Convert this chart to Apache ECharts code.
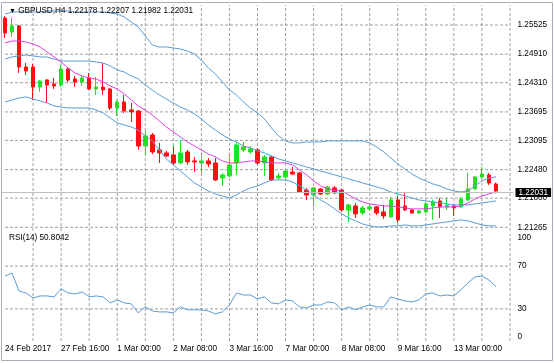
<!DOCTYPE html>
<html><head><meta charset="utf-8">
<script src="https://cdn.jsdelivr.net/npm/echarts@6/dist/echarts.min.js"></script>
<style>html,body{margin:0;padding:0;background:#fff}#c{width:554px;height:363px}</style>
</head><body><div id="c"></div>
<script>
const symbol = 'GBPUSD,H4';
const categories = [
 '2017.02.24 08:00','2017.02.24 12:00','2017.02.24 16:00','2017.02.24 20:00',
 '2017.02.27 00:00','2017.02.27 04:00','2017.02.27 08:00','2017.02.27 12:00','2017.02.27 16:00','2017.02.27 20:00',
 '2017.02.28 00:00','2017.02.28 04:00','2017.02.28 08:00','2017.02.28 12:00','2017.02.28 16:00','2017.02.28 20:00',
 '2017.03.01 00:00','2017.03.01 04:00','2017.03.01 08:00','2017.03.01 12:00','2017.03.01 16:00','2017.03.01 20:00',
 '2017.03.02 00:00','2017.03.02 04:00','2017.03.02 08:00','2017.03.02 12:00','2017.03.02 16:00','2017.03.02 20:00',
 '2017.03.03 00:00','2017.03.03 04:00','2017.03.03 08:00','2017.03.03 12:00','2017.03.03 16:00','2017.03.03 20:00',
 '2017.03.06 00:00','2017.03.06 04:00','2017.03.06 08:00','2017.03.06 12:00','2017.03.06 16:00','2017.03.06 20:00',
 '2017.03.07 00:00','2017.03.07 04:00','2017.03.07 08:00','2017.03.07 12:00','2017.03.07 16:00','2017.03.07 20:00',
 '2017.03.08 00:00','2017.03.08 04:00','2017.03.08 08:00','2017.03.08 12:00','2017.03.08 16:00','2017.03.08 20:00',
 '2017.03.09 00:00','2017.03.09 04:00','2017.03.09 08:00','2017.03.09 12:00','2017.03.09 16:00','2017.03.09 20:00',
 '2017.03.10 00:00','2017.03.10 04:00','2017.03.10 08:00','2017.03.10 12:00','2017.03.10 16:00','2017.03.10 20:00',
 '2017.03.13 00:00','2017.03.13 04:00','2017.03.13 08:00','2017.03.13 12:00','2017.03.13 16:00','2017.03.13 20:00',
 '2017.03.14 00:00','2017.03.14 04:00','2017.03.14 08:00'
];
const dateLabels = ['24 Feb 2017','27 Feb 16:00','1 Mar 00:00','2 Mar 08:00','3 Mar 16:00','7 Mar 00:00','8 Mar 08:00','9 Mar 16:00','13 Mar 00:00'];
const priceTicks = [1.21265,1.21880,1.22480,1.23095,1.23695,1.24310,1.24910,1.25525];
const priceRange = [1.21188, 1.25946];
const rsiTicks = [0,30,70,100];
const rsiLevels = [30,70];

const open = [1.25672,1.25378,1.25504,1.24641,1.24641,1.24220,1.24367,1.24283,1.24262,1.24599,
 1.24389,1.24325,1.24410,1.24178,1.24220,1.24178,1.23778,1.23904,1.23736,1.23715,
 1.22978,1.23210,1.22894,1.22831,1.22789,1.22621,1.22852,1.22663,1.22621,1.22663,
 1.22621,1.22305,1.22347,1.22621,1.22894,1.22852,1.22894,1.22621,1.22747,1.22305,
 1.22326,1.22431,1.22410,1.22052,1.21947,1.22073,1.21968,1.22094,1.22052,1.21632,
 1.21716,1.21568,1.21653,1.21695,1.21589,1.21484,1.21842,1.21716,1.21632,1.21568,
 1.21589,1.21716,1.21821,1.21695,1.21716,1.21695,1.21842,1.22073,1.22326,1.22368,
 1.22178];
const close = [1.25357,1.25504,1.24641,1.24557,1.24220,1.24346,1.24262,1.24241,1.24599,1.24367,
 1.24325,1.24410,1.24178,1.24220,1.24157,1.23778,1.23904,1.23715,1.23694,1.22978,
 1.23189,1.22852,1.22831,1.22768,1.22621,1.22831,1.22642,1.22642,1.22663,1.22600,
 1.22263,1.22368,1.22579,1.23000,1.22957,1.22915,1.22621,1.22747,1.22263,1.22347,
 1.22452,1.22389,1.22010,1.21947,1.22094,1.21968,1.22116,1.21989,1.21632,1.21737,
 1.21547,1.21674,1.21695,1.21568,1.21505,1.21842,1.21421,1.21632,1.21568,1.21610,
 1.21758,1.21800,1.21695,1.21737,1.21674,1.21863,1.22073,1.22326,1.22389,1.22200,
 1.22031];
const low = [1.25251,1.25272,1.24515,1.24473,1.23947,1.24115,1.23883,1.24178,1.24220,1.24325,
 1.24220,1.24241,1.24157,1.24052,1.24052,1.23736,1.23610,1.23673,1.23484,1.22894,
 1.22789,1.22810,1.22621,1.22747,1.22579,1.22600,1.22579,1.22431,1.22410,1.22536,
 1.22242,1.22137,1.22326,1.22368,1.22852,1.22810,1.22579,1.22347,1.22242,1.22263,
 1.22305,1.22368,1.21989,1.21842,1.21695,1.21947,1.21947,1.21968,1.21589,1.21379,
 1.21463,1.21526,1.21610,1.21526,1.21442,1.21463,1.21358,1.21610,1.21547,1.21547,
 1.21568,1.21421,1.21463,1.21632,1.21505,1.21674,1.21821,1.22052,1.22284,1.22158,
 1.21982];
const high = [1.25714,1.25672,1.25525,1.24725,1.24704,1.24367,1.24389,1.24410,1.24683,1.24641,
 1.24452,1.24473,1.24515,1.24431,1.24725,1.24199,1.23947,1.24052,1.23883,1.23736,
 1.23294,1.23252,1.23042,1.22873,1.22978,1.23105,1.22894,1.22747,1.22831,1.22726,
 1.22726,1.22410,1.22789,1.23063,1.23063,1.22978,1.22936,1.22789,1.22768,1.22410,
 1.22473,1.22536,1.22431,1.22094,1.22116,1.22094,1.22137,1.22137,1.22073,1.21758,
 1.21779,1.21716,1.21737,1.21716,1.21737,1.21905,1.21926,1.21989,1.21653,1.21632,
 1.21800,1.21842,1.21884,1.21884,1.21737,1.21905,1.22410,1.22347,1.22536,1.22410,
 1.22207];

const bbUpper = [1.25756,1.25799,1.25799,1.25799,1.25799,1.25799,1.25820,1.25820,1.25820,1.25820,
 1.25799,1.25799,1.25799,1.25799,1.25799,1.25778,1.25756,1.25693,1.25588,1.25483,
 1.25293,1.25104,1.25062,1.25062,1.25041,1.25020,1.24978,1.24915,1.24788,1.24620,
 1.24494,1.24325,1.24157,1.24052,1.23904,1.23778,1.23673,1.23547,1.23357,1.23189,
 1.23084,1.23042,1.23042,1.23063,1.23063,1.23063,1.23084,1.23084,1.23084,1.23084,
 1.23084,1.23084,1.23042,1.22957,1.22852,1.22726,1.22600,1.22494,1.22389,1.22305,
 1.22242,1.22179,1.22137,1.22073,1.22031,1.22010,1.22031,1.22137,1.22242,1.22305,
 1.22326];
const bbMiddle = [1.24809,1.24852,1.24873,1.24894,1.24873,1.24852,1.24852,1.24809,1.24767,1.24767,
 1.24767,1.24767,1.24767,1.24746,1.24725,1.24662,1.24578,1.24536,1.24452,1.24389,
 1.24262,1.24157,1.24052,1.23968,1.23883,1.23799,1.23736,1.23652,1.23547,1.23420,
 1.23315,1.23210,1.23126,1.23063,1.22978,1.22936,1.22873,1.22831,1.22768,1.22705,
 1.22663,1.22621,1.22579,1.22536,1.22494,1.22452,1.22410,1.22368,1.22326,1.22284,
 1.22242,1.22200,1.22158,1.22116,1.22073,1.22010,1.21968,1.21926,1.21884,1.21842,
 1.21821,1.21800,1.21779,1.21758,1.21737,1.21737,1.21737,1.21758,1.21779,1.21800,
 1.21821];
const bbLower = [1.23904,1.23947,1.23989,1.24010,1.23968,1.23926,1.23883,1.23820,1.23799,1.23778,
 1.23778,1.23778,1.23778,1.23736,1.23673,1.23568,1.23463,1.23420,1.23378,1.23315,
 1.23189,1.23084,1.22894,1.22705,1.22579,1.22452,1.22326,1.22200,1.22116,1.22031,
 1.21968,1.21926,1.21884,1.21947,1.22031,1.22094,1.22137,1.22200,1.22263,1.22263,
 1.22263,1.22221,1.22137,1.22052,1.21947,1.21842,1.21758,1.21653,1.21547,1.21463,
 1.21400,1.21337,1.21295,1.21274,1.21274,1.21295,1.21295,1.21316,1.21295,1.21295,
 1.21316,1.21337,1.21358,1.21379,1.21400,1.21421,1.21400,1.21358,1.21316,1.21295,
 1.21295];
const maLine = [1.25146,1.25188,1.25188,1.25167,1.25125,1.25062,1.24957,1.24852,1.24746,1.24620,
 1.24515,1.24452,1.24410,1.24389,1.24325,1.24241,1.24178,1.24073,1.23947,1.23820,
 1.23736,1.23631,1.23505,1.23378,1.23273,1.23168,1.23063,1.22978,1.22894,1.22810,
 1.22747,1.22663,1.22621,1.22621,1.22642,1.22663,1.22663,1.22642,1.22621,1.22621,
 1.22621,1.22579,1.22473,1.22368,1.22242,1.22137,1.22073,1.22052,1.22031,1.21947,
 1.21863,1.21800,1.21758,1.21737,1.21716,1.21716,1.21695,1.21674,1.21653,1.21653,
 1.21653,1.21674,1.21695,1.21695,1.21695,1.21716,1.21779,1.21863,1.21926,1.21968,
 1.22010];
const rsi = [60.7,63.5,46.7,44.9,40.2,42.1,42.1,41.2,48.6,44.9,
 44.0,45.8,41.2,42.1,41.2,35.6,38.4,35.6,34.7,26.3,
 31.9,28.1,27.2,27.2,26.3,31.9,29.1,29.1,29.1,28.1,
 25.3,27.2,33.7,44.9,43.0,43.0,39.3,41.2,35.6,34.7,
 38.4,37.4,31.9,30.9,33.7,33.7,36.5,35.6,29.1,31.9,
 29.1,31.9,33.7,31.9,31.9,41.2,39.3,37.4,36.5,38.4,
 44.0,44.9,42.1,43.0,42.1,47.7,54.2,59.8,60.7,57.0,
 50.8042];

const FONT = '"Liberation Sans", Arial, sans-serif';
const FS = 8.2;
const UP = '#22e022', DOWN = '#ff1010', BLUE = '#5b9bd5', MAG = '#e040e0';
const GRID_LINE = {color: '#a0a0a0', type: [3, 2], width: 1};
const last = close.length - 1;
const candles = open.map((o, i) => [o, close[i], low[i], high[i]]);
const gridCats = categories.filter((c, i) => i > 0 && i % 4 === 0);
const firstCat = categories[0], lastCat = categories[categories.length - 1];
const head = symbol + ' ' + [open[last], high[last], low[last], close[last]].map(v => v.toFixed(5)).join(' ');
const txt = {fontFamily: FONT, fontSize: FS, color: '#000', fontWeight: 'normal'};
const noAxis = {axisLine: {show: false}, axisTick: {show: false}, splitLine: {show: false}};

function rsiAxis(values, va) {
  return Object.assign({type: 'value', gridIndex: 1, position: 'right', min: rsiTicks[0], max: rsiTicks[rsiTicks.length - 1],
    axisLabel: Object.assign({customValues: values, margin: 4, verticalAlign: va}, txt)}, noAxis);
}
function lineSeries(data, color) {
  return {type: 'line', xAxisIndex: 0, yAxisIndex: 0, data: data, symbol: 'none', silent: true, z: 3,
    lineStyle: {color: color, width: 1}};
}
function gridSeg(xi, yi, pts) {
  return {type: 'line', xAxisIndex: xi, yAxisIndex: yi, data: pts, symbol: 'none', silent: true, z: 1,
    lineStyle: GRID_LINE};
}
function gridSeries(xi, yi, yValues, yMin, yMax) {
  return yValues.map(v => gridSeg(xi, yi, [[firstCat, v], [lastCat, v]]))
    .concat(gridCats.map(c => gridSeg(xi, yi, [[c, yMin], [c, yMax]])));
}

const series = []
  .concat(gridSeries(0, 0, priceTicks, priceRange[0], priceRange[1]))
  .concat(gridSeries(1, 1, rsiLevels, rsiTicks[0], rsiTicks[rsiTicks.length - 1]))
  .concat([
    {type: 'line', xAxisIndex: 0, yAxisIndex: 0, data: [], z: 1, silent: true,
      markLine: {symbol: ['none', 'none'], silent: true, animation: false,
        lineStyle: {color: '#c0c0c0', type: 'solid', width: 1},
        label: Object.assign({show: true, position: 'end', distance: 2, formatter: close[last].toFixed(5),
          backgroundColor: '#000', padding: [0, 3, 0, 3], lineHeight: 9}, txt, {color: '#fff'}),
        data: [{yAxis: close[last]}]}},
    {type: 'candlestick', xAxisIndex: 0, yAxisIndex: 0, data: candles, barWidth: 4, z: 2, silent: true,
      itemStyle: {color: UP, color0: DOWN, borderColor: UP, borderColor0: DOWN, borderWidth: 1}},
    lineSeries(bbUpper, BLUE),
    lineSeries(bbMiddle, BLUE),
    lineSeries(bbLower, BLUE),
    lineSeries(maLine, MAG),
    {type: 'line', xAxisIndex: 1, yAxisIndex: 1, data: rsi, symbol: 'none', silent: true, z: 3,
      lineStyle: {color: BLUE, width: 1}}
  ]);

const chart = echarts.init(document.getElementById('c'));
chart.setOption({
  animation: false,
  backgroundColor: '#fff',
  textStyle: {fontFamily: FONT},
  graphic: [{type: 'rect', silent: true, z: 100, shape: {x: 1.5, y: 2.5, width: 551, height: 358},
    style: {fill: 'none', stroke: '#a5afbb', lineWidth: 1}}],
  title: [
    {left: 9, top: 7, padding: 0, text: '{t|▼} ' + head,
      textStyle: Object.assign({rich: {t: {fontSize: 7, color: '#000', fontFamily: FONT}}}, txt)},
    {left: 9, top: 234, padding: 0, text: 'RSI(14) ' + rsi[last].toFixed(4), textStyle: txt}
  ],
  grid: [
    {left: 1.5, top: 5, width: 512, height: 226},
    {left: 1.5, top: 234, width: 512, height: 107}
  ],
  xAxis: [
    Object.assign({type: 'category', gridIndex: 0, data: categories, boundaryGap: true, axisLabel: {show: false}}, noAxis),
    Object.assign({type: 'category', gridIndex: 1, data: categories, boundaryGap: true,
      axisLabel: Object.assign({interval: 7, align: 'left', margin: 4,
        formatter: function (v) { const i = categories.indexOf(v); return i % 8 === 0 ? (dateLabels[i / 8] || '') : ''; }}, txt)}, noAxis)
  ],
  yAxis: [
    Object.assign({type: 'value', gridIndex: 0, position: 'right', min: priceRange[0], max: priceRange[1],
      axisLabel: Object.assign({customValues: priceTicks, margin: 4, formatter: v => v.toFixed(5)}, txt)}, noAxis),
    rsiAxis(rsiTicks.filter(v => v > 0 && v < 100), 'middle'),
    rsiAxis(rsiTicks.filter(v => v === 100), 'top'),
    rsiAxis(rsiTicks.filter(v => v === 0), 'bottom')
  ],
  series: series
});
</script>
</body></html>
